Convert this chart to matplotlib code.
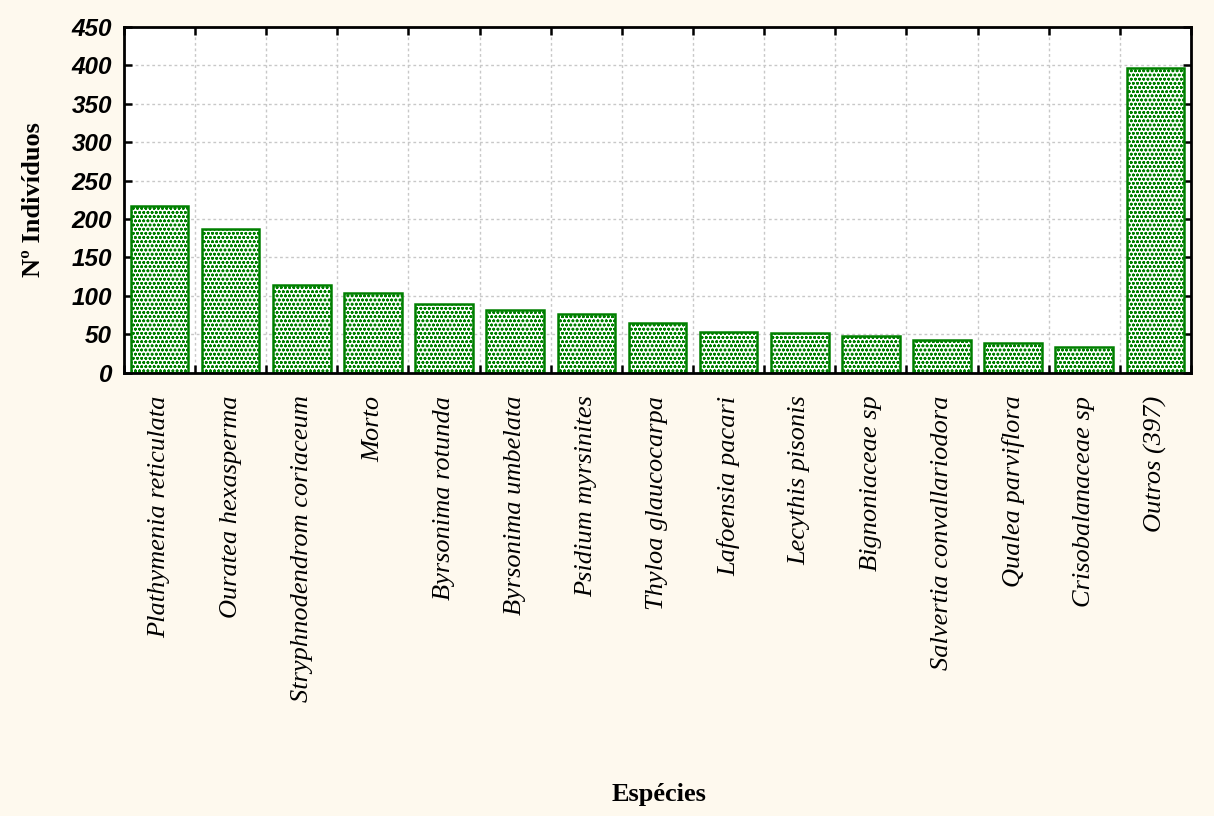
import matplotlib
matplotlib.use("Agg")
import matplotlib.pyplot as plt
import numpy as np

species = [
    "Plathymenia reticulata", "Ouratea hexasperma", "Stryphnodendrom coriaceum",
    "Morto", "Byrsonima rotunda", "Byrsonima umbelata", "Psidium myrsinites",
    "Thyloa glaucocarpa", "Lafoensia pacari", "Lecythis pisonis",
    "Bignoniaceae sp", "Salvertia convallariodora", "Qualea parviflora",
    "Crisobalanaceae sp", "Outros (397)",
]
counts = [217, 187, 114, 104, 89, 81, 77, 65, 53, 51, 48, 43, 38, 33, 397]
y_ticks = [0, 50, 100, 150, 200, 250, 300, 350, 400, 450]

bg = "#fef9ee"
green = "#008000"

plt.rcParams["hatch.linewidth"] = 0.8
plt.rcParams["hatch.color"] = green

fig = plt.figure(figsize=(12.14, 8.16), dpi=100, facecolor=bg)
ax = fig.add_axes([0.1021, 0.5433, 0.8789, 0.4236])
ax.set_facecolor("white")

x = np.arange(len(species))
ax.bar(x, counts, width=0.81, facecolor="white", edgecolor=green,
       linewidth=1.8, hatch="oooo", zorder=3)

ax.set_xlim(-0.5, len(species) - 0.5)
ax.set_ylim(0, 450)

# boundaries between categories carry the ticks and vertical grid
ax.set_xticks(np.arange(-0.5, len(species) + 0.5, 1.0))
ax.set_xticklabels([])
ax.set_xticks(x, minor=True)
ax.set_xticklabels(species, minor=True, rotation=90, ha="center", va="top",
                   family="Liberation Serif", style="italic", fontsize=19)
ax.tick_params(axis="x", which="minor", length=0, pad=16.5)
ax.tick_params(axis="x", which="major", direction="in", length=6, width=1.8,
               top=True, bottom=True)

ax.set_yticks(y_ticks)
ax.set_yticklabels([str(v) for v in y_ticks], family="Liberation Sans",
                   weight="bold", style="italic", fontsize=17.5)
ax.tick_params(axis="y", direction="in", length=6, width=1.8,
               left=True, right=True, pad=8.5)

ax.grid(True, which="major", color="#c8c8c8", linestyle=(0, (2, 2)),
        linewidth=1.0, zorder=0)
ax.set_axisbelow(True)

for s in ax.spines.values():
    s.set_linewidth(2.0)
    s.set_color("black")
    s.set_zorder(4)

fig.text(0.028, 0.755, "Nº Indivíduos", family="Liberation Serif",
         weight="bold", fontsize=19, rotation=90, ha="center", va="center")
fig.text(0.543, 0.026, "Espécies", family="Liberation Serif", weight="bold",
         fontsize=19, ha="center", va="center")

fig.savefig("out.png", dpi=100, facecolor=bg)
